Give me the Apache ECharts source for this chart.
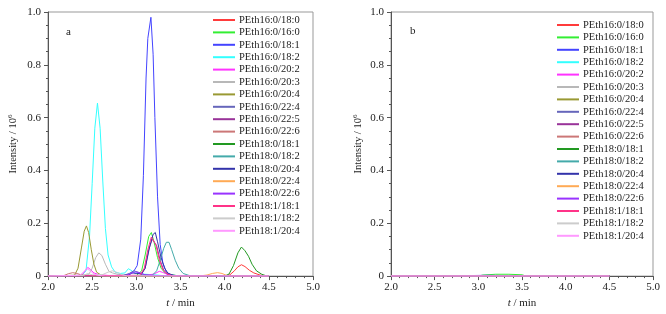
<!DOCTYPE html>
<html>
<head>
<meta charset="utf-8">
<script src="https://cdn.jsdelivr.net/npm/echarts@6/dist/echarts.min.js"></script>
<style>
html,body{margin:0;padding:0;background:#fff;}
#main{width:666px;height:314px;}
</style>
</head>
<body>
<div id="main"></div>
<script>
// lipid species (legend order)
var names = ['PEth16:0/18:0','PEth16:0/16:0','PEth16:0/18:1','PEth16:0/18:2','PEth16:0/20:2','PEth16:0/20:3',
    'PEth16:0/20:4','PEth16:0/22:4','PEth16:0/22:5','PEth16:0/22:6','PEth18:0/18:1','PEth18:0/18:2',
    'PEth18:0/20:4','PEth18:0/22:4','PEth18:0/22:6','PEth18:1/18:1','PEth18:1/18:2','PEth18:1/20:4'];
var colors = ['#ff3b3b','#33ee33','#4444ff','#33ffff','#ff33ff','#b8b8b8','#999933','#6666bb','#993399',
    '#cc7777','#229922','#44aaaa','#3333aa','#ffaa55','#9933ff','#ff3388','#cccccc','#ff99ff'];

var xTicks = [2.0, 2.5, 3.0, 3.5, 4.0, 4.5, 5.0];
var yTicks = [0, 0.2, 0.4, 0.6, 0.8, 1.0];

// panel a  [t/min, intensity/10^6]
var a_16_0_18_0 = [[2.0,0],[4.0,0],[4.06,0.005],[4.11,0.02],[4.15,0.035],[4.19,0.043],[4.23,0.036],[4.28,0.022],[4.33,0.012],[4.4,0.004],[4.47,0],[4.5,0]];
var a_16_0_16_0 = [[2.0,0],[3.0,0.002],[3.06,0.02],[3.1,0.08],[3.14,0.15],[3.17,0.165],[3.2,0.13],[3.24,0.07],[3.28,0.03],[3.33,0.01],[3.4,0.005],[3.5,0],[4.5,0]];
var a_16_0_18_1 = [[2.0,0],[2.85,0.002],[2.92,0.008],[2.97,0.018],[3.01,0.04],[3.05,0.14],[3.08,0.38],[3.11,0.75],[3.13,0.9],[3.165,0.98],[3.19,0.84],[3.21,0.6],[3.24,0.3],[3.27,0.12],[3.3,0.05],[3.34,0.015],[3.4,0.004],[3.5,0],[4.5,0]];
var a_16_0_18_2 = [[2.0,0],[2.38,0.002],[2.43,0.02],[2.47,0.15],[2.5,0.35],[2.53,0.56],[2.56,0.655],[2.59,0.56],[2.62,0.36],[2.65,0.18],[2.68,0.08],[2.72,0.035],[2.76,0.015],[2.82,0.01],[2.87,0.012],[2.91,0.028],[2.94,0.022],[2.98,0.012],[3.05,0.008],[3.2,0.005],[3.35,0],[4.5,0]];
var a_16_0_20_2 = [[2.0,0],[2.38,0.003],[2.42,0.02],[2.45,0.033],[2.48,0.025],[2.52,0.012],[2.58,0.005],[2.7,0.002],[3.1,0.002],[3.2,0.008],[3.26,0.018],[3.3,0.014],[3.36,0.005],[3.45,0],[4.5,0]];
var a_16_0_20_3 = [[2.0,0],[2.46,0.005],[2.5,0.03],[2.54,0.07],[2.575,0.088],[2.61,0.078],[2.65,0.045],[2.69,0.018],[2.73,0.012],[2.8,0.006],[2.9,0.002],[4.5,0]];
var a_16_0_20_4 = [[2.0,0],[2.3,0.003],[2.34,0.03],[2.38,0.11],[2.41,0.17],[2.435,0.19],[2.46,0.165],[2.49,0.1],[2.52,0.045],[2.55,0.015],[2.6,0.004],[2.7,0],[4.5,0]];
var a_16_0_22_4 = [[2.0,0],[2.85,0.002],[2.92,0.01],[2.97,0.02],[3.02,0.015],[3.08,0.006],[3.15,0.002],[4.5,0]];
var a_16_0_22_5 = [[2.0,0],[3.05,0.002],[3.1,0.03],[3.14,0.1],[3.18,0.14],[3.2,0.145],[3.23,0.115],[3.27,0.06],[3.31,0.022],[3.36,0.006],[3.42,0],[4.5,0]];
var a_16_0_22_6 = [[2.0,0],[2.18,0.002],[2.23,0.009],[2.28,0.013],[2.33,0.01],[2.38,0.004],[2.45,0.001],[4.5,0]];
var a_18_0_18_1 = [[2.0,0],[4.0,0],[4.05,0.008],[4.1,0.04],[4.15,0.088],[4.19,0.11],[4.23,0.096],[4.27,0.075],[4.31,0.045],[4.36,0.02],[4.42,0.007],[4.48,0],[4.5,0]];
var a_18_0_18_2 = [[2.0,0],[3.18,0.003],[3.23,0.02],[3.27,0.06],[3.31,0.105],[3.34,0.128],[3.37,0.128],[3.4,0.1],[3.44,0.06],[3.48,0.03],[3.53,0.01],[3.6,0.002],[3.7,0],[4.5,0]];
var a_18_0_20_4 = [[2.0,0],[2.9,0.003],[2.96,0.012],[3.0,0.01],[3.06,0.01],[3.1,0.03],[3.15,0.11],[3.19,0.158],[3.215,0.165],[3.24,0.13],[3.28,0.07],[3.32,0.03],[3.36,0.01],[3.42,0.003],[3.5,0],[4.5,0]];
var a_18_0_22_4 = [[2.0,0],[3.7,0],[3.8,0.004],[3.86,0.01],[3.92,0.013],[3.97,0.01],[4.02,0.003],[4.08,0],[4.5,0]];
var a_18_0_22_6 = [[2.0,0],[2.88,0.002],[2.94,0.01],[2.99,0.016],[3.04,0.012],[3.1,0.005],[3.2,0.002],[4.5,0]];
var a_18_1_18_1 = [[2.0,0],[3.04,0.003],[3.09,0.03],[3.13,0.1],[3.17,0.148],[3.19,0.155],[3.22,0.12],[3.26,0.062],[3.3,0.025],[3.35,0.008],[3.42,0],[4.5,0]];
var a_18_1_18_2 = [[2.0,0],[2.4,0.002],[2.45,0.01],[2.5,0.005],[2.62,0.006],[2.68,0.015],[2.73,0.02],[2.78,0.014],[2.84,0.005],[2.9,0],[4.5,0]];
var a_18_1_20_4 = [[2.0,0],[2.36,0.003],[2.41,0.018],[2.44,0.028],[2.47,0.022],[2.51,0.01],[2.56,0.003],[2.65,0],[4.5,0]];

// panel b
var b_16_0_18_0 = [[2.0,0],[4.0,0],[4.05,0.002],[4.45,0.002],[4.5,0]];
var b_16_0_16_0 = [[2.0,0],[3.0,0],[3.05,0.004],[3.2,0.007],[3.35,0.007],[3.5,0.005],[3.55,0],[4.5,0]];
var b_16_0_18_1 = [[2.0,0],[2.9,0.002],[3.1,0.003],[3.3,0.002],[3.5,0],[4.5,0]];
var b_18_0_20_4 = [[2.0,0],[2.9,0.001],[3.0,0.002],[3.2,0.002],[3.4,0],[4.5,0]];
var b_flat = [[2.0,0],[4.5,0]];

var dataA = [a_16_0_18_0,a_16_0_16_0,a_16_0_18_1,a_16_0_18_2,a_16_0_20_2,a_16_0_20_3,a_16_0_20_4,a_16_0_22_4,a_16_0_22_5,
    a_16_0_22_6,a_18_0_18_1,a_18_0_18_2,a_18_0_20_4,a_18_0_22_4,a_18_0_22_6,a_18_1_18_1,a_18_1_18_2,a_18_1_20_4];
var dataB = [b_16_0_18_0,b_16_0_16_0,b_16_0_18_1,b_flat,b_flat,b_flat,b_flat,b_flat,b_flat,
    b_flat,b_flat,b_flat,b_18_0_20_4,b_flat,b_flat,b_flat,b_flat,b_flat];

var FONT = '"Liberation Serif","DejaVu Serif",serif';

function xAxisOf(idx){
    return {
        type:'value', gridIndex:idx, min:xTicks[0], max:xTicks[xTicks.length-1], interval:0.5,
        name:'{i|t} / min', nameLocation:'middle', nameGap:19,
        nameTextStyle:{fontFamily:FONT, fontSize:11, color:'#222', rich:{i:{fontFamily:FONT, fontSize:11, fontStyle:'italic', color:'#222'}}},
        axisLine:{lineStyle:{color:'#555', width:1}},
        axisTick:{length:4, lineStyle:{color:'#555'}},
        minorTick:{show:true, splitNumber:5, length:2, lineStyle:{color:'#555'}},
        splitLine:{show:false},
        axisLabel:{fontFamily:FONT, fontSize:11, color:'#222', margin:6, formatter:function(v){return v.toFixed(1);}}
    };
}
function yAxisOf(idx, gap){
    return {
        type:'value', gridIndex:idx, min:yTicks[0], max:yTicks[yTicks.length-1], interval:0.2,
        name:'{n|Intensity / 10}{s|6}', nameLocation:'middle', nameGap:gap, nameRotate:90,
        nameTextStyle:{rich:{n:{fontFamily:FONT, fontSize:10.5, color:'#222'}, s:{fontFamily:FONT, fontSize:7, color:'#222', verticalAlign:'top', padding:[0,0,6,0]}}},
        axisLine:{show:true, lineStyle:{color:'#555', width:1}},
        axisTick:{length:4, lineStyle:{color:'#555'}},
        minorTick:{show:true, splitNumber:4, length:2, lineStyle:{color:'#555'}},
        splitLine:{show:false},
        axisLabel:{fontFamily:FONT, fontSize:11, color:'#222', margin:7, formatter:function(v){return v===0?'0':v.toFixed(1);}}
    };
}
function legendOf(left, top){
    return {
        orient:'vertical', left:left, top:top, data:names, icon:'rect',
        itemWidth:22, itemHeight:2, itemGap:0.4, padding:0,
        textStyle:{fontFamily:FONT, fontSize:10.5, color:'#222', lineHeight:12, padding:[0,0,0,-1]}
    };
}

var series = [];
names.forEach(function(n, i){
    series.push({name:n, type:'line', xAxisIndex:0, yAxisIndex:0, data:dataA[i], symbol:'none',
        lineStyle:{width:1, color:colors[i]}, itemStyle:{color:colors[i]}});
});
names.forEach(function(n, i){
    series.push({name:n, type:'line', xAxisIndex:1, yAxisIndex:1, data:dataB[i], symbol:'none',
        lineStyle:{width:1, color:colors[i]}, itemStyle:{color:colors[i]}});
});

var myChart = echarts.init(document.getElementById('main'));
var option = {
    animation:false,
    backgroundColor:'#fff',
    grid:[
        {left:48, right:353, top:12, bottom:30, show:true, borderColor:'#999', borderWidth:1},
        {left:391, right:13, top:12, bottom:30, show:true, borderColor:'#999', borderWidth:1}
    ],
    xAxis:[xAxisOf(0), xAxisOf(1)],
    yAxis:[yAxisOf(0, 28), yAxisOf(1, 26)],
    legend:[legendOf(213, 14), legendOf(557, 19)],
    graphic:[
        {type:'text', left:66, top:27, style:{text:'a', font:'11px ' + FONT, fill:'#222'}},
        {type:'text', left:410, top:26, style:{text:'b', font:'11px ' + FONT, fill:'#222'}}
    ],
    series:series
};
myChart.setOption(option);
</script>
</body>
</html>
